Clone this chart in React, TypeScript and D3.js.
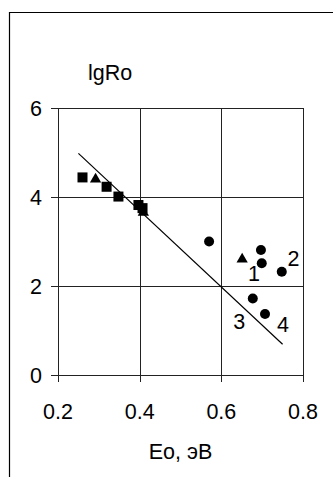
import React from "react";
import * as d3 from "d3";

// values
const squares: [number, number][] = [
  [0.26, 4.44],
  [0.319, 4.23],
  [0.348, 4.01],
  [0.397, 3.82],
  [0.407, 3.75],
];
const triangles: [number, number][] = [
  [0.292, 4.4],
  [0.409, 3.65],
  [0.651, 2.6],
];
const circles: [number, number][] = [
  [0.57, 3.0],
  [0.697, 2.81],
  [0.699, 2.51],
  [0.748, 2.32],
  [0.677, 1.72],
  [0.707, 1.37],
];
const fitLine: [number, number][] = [
  [0.25, 4.98],
  [0.75, 0.69],
];
const pointLabels: { text: string; x: number; y: number }[] = [
  { text: "1", x: 0.68, y: 2.11 },
  { text: "2", x: 0.777, y: 2.46 },
  { text: "3", x: 0.644, y: 1.03 },
  { text: "4", x: 0.751, y: 0.96 },
];
const xTicks = [0.2, 0.4, 0.6, 0.8];
const yTicks = [0, 2, 4, 6];

const W = 333;
const H = 477;
const font = "'Liberation Sans', Arial, sans-serif";

export default function App() {
  const x = d3.scaleLinear().domain([0.2, 0.8]).range([58, 303]);
  const y = d3.scaleLinear().domain([0, 6]).range([375, 108]);
  const line = d3
    .line<[number, number]>()
    .x((d) => x(d[0]))
    .y((d) => y(d[1]));
  const tri = d3.symbol().type(d3.symbolTriangle).size(55)();

  return (
    <svg
      width={W}
      height={H}
      style={{ position: "absolute", left: 0, top: 0, background: "#fff" }}
      fontFamily={font}
    >
      {/* outer frame */}
      <path d={`M9.5,${H + 2}V12.5H${W + 2}`} fill="none" stroke="#000" strokeWidth={1.2} />

      {/* grid */}
      {xTicks.map((t) => (
        <line key={"gx" + t} x1={Math.round(x(t)) + 0.5} x2={Math.round(x(t)) + 0.5} y1={y(6)} y2={y(0) + 7} stroke="#222" />
      ))}
      {yTicks.map((t) => (
        <line key={"gy" + t} x1={x(0.2) - 7} x2={x(0.8)} y1={Math.round(y(t)) + 0.5} y2={Math.round(y(t)) + 0.5} stroke="#222" />
      ))}

      {/* tick labels */}
      {xTicks.map((t) => (
        <text key={"tx" + t} x={x(t)} y={419} textAnchor="middle" fontSize={21.5}>
          {d3.format(".1f")(t)}
        </text>
      ))}
      {yTicks.map((t) => (
        <text key={"ty" + t} x={42} y={y(t) + 8} textAnchor="end" fontSize={21.5}>
          {t}
        </text>
      ))}
      <text x={88} y={80} fontSize={21.5}>lgRo</text>
      <text x={(x(0.2) + x(0.8)) / 2} y={459} textAnchor="middle" fontSize={21.5}>
        Eo, эВ
      </text>

      {/* fit line */}
      <path d={line(fitLine) || ""} fill="none" stroke="#000" strokeWidth={1.2} />

      {/* markers */}
      {squares.map((d, i) => (
        <rect key={"s" + i} x={x(d[0]) - 5} y={y(d[1]) - 5} width={10} height={10} fill="#000" />
      ))}
      {triangles.map((d, i) => (
        <path key={"t" + i} d={tri || ""} transform={`translate(${x(d[0])},${y(d[1])})`} fill="#000" />
      ))}
      {circles.map((d, i) => (
        <circle key={"c" + i} cx={x(d[0])} cy={y(d[1])} r={5} fill="#000" />
      ))}
      {pointLabels.map((l) => (
        <text key={"l" + l.text} x={x(l.x)} y={y(l.y)} textAnchor="middle" fontSize={21.5}>
          {l.text}
        </text>
      ))}
    </svg>
  );
}
